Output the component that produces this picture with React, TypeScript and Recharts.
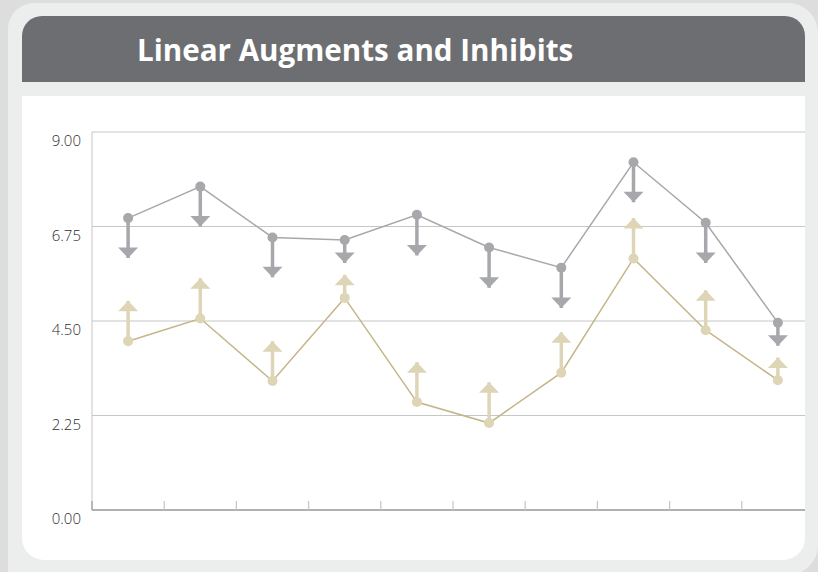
import React from 'react';
import { ComposedChart, Line, XAxis, YAxis, CartesianGrid, ErrorBar } from 'recharts';

const periods = ['1', '2', '3', '4', '5', '6', '7', '8', '9', '10'];
const inhibitFrom = [6.95, 7.7, 6.49, 6.43, 7.03, 6.25, 5.77, 8.28, 6.84, 4.46];
const inhibitTo = [6.0, 6.75, 5.54, 5.88, 6.06, 5.29, 4.81, 7.33, 5.88, 3.91];
const augmentFrom = [4.02, 4.56, 3.07, 5.05, 2.57, 2.07, 3.27, 5.99, 4.28, 3.09];
const augmentTo = [4.98, 5.52, 4.02, 5.6, 3.52, 3.04, 4.23, 6.95, 5.23, 3.63];
const yTicks = [0, 2.25, 4.5, 6.75, 9];
const xTicks = [0, 1, 2, 3, 4, 5, 6, 7, 8, 9, 10];

const GRAY = '#a7a8ab';
const GOLD_LINE = '#c4b688';
const GOLD = '#ddd5b6';

const data = periods.map((p, i) => ({
  period: p,
  pos: i + 0.5,
  inhibit: inhibitFrom[i],
  inhibitTo: inhibitTo[i],
  augment: augmentFrom[i],
  augmentTo: augmentTo[i],
}));

const XTick = (props: any) => {
  const { x, y, index } = props;
  return <line x1={x} x2={x} y1={y} y2={y - 9} stroke={index === 0 ? '#9a9a9a' : '#c6c6c6'} strokeWidth={1.2} />;
};

const YTick = (props: any) => {
  const { x, y, payload } = props;
  return (
    <text x={x} y={y + 8} textAnchor="end" dominantBaseline="central" fill="#2e2e2e"
      style={{ fontFamily: '"Open Sans", sans-serif', fontSize: 15, fontWeight: 300 }}>
      {Number(payload.value).toFixed(2)}
    </text>
  );
};

// arrow heads drawn at the target value
const DownHead = (props: any) => {
  const { cx, cy } = props;
  if (cx == null || cy == null) return null;
  return <polygon points={`${cx - 10},${cy - 10.5} ${cx + 10},${cy - 10.5} ${cx},${cy}`} fill={GRAY} />;
};

const UpHead = (props: any) => {
  const { cx, cy } = props;
  if (cx == null || cy == null) return null;
  return <polygon points={`${cx - 10},${cy + 10.5} ${cx + 10},${cy + 10.5} ${cx},${cy}`} fill={GOLD} />;
};

export default function App() {
  return (
    <div style={{ position: 'absolute', left: 0, top: 0, width: 818, height: 572, background: '#dcdddc', overflow: 'hidden' }}>
      <div style={{ position: 'absolute', left: 8, top: 3, width: 810, height: 572, background: '#eceeed', borderRadius: '26px 30px 30px 0' }} />
      <div style={{ position: 'absolute', left: 22, top: 16, width: 783, height: 66, background: '#6d6e71', borderRadius: '20px 20px 0 0' }} />
      <div style={{
        position: 'absolute', left: 137, top: 35, color: '#fff', fontFamily: '"Open Sans", sans-serif',
        fontWeight: 700, fontSize: 29.6, lineHeight: '29px', whiteSpace: 'nowrap',
      }}>
        Linear Augments and Inhibits
      </div>
      <div style={{ position: 'absolute', left: 22, top: 96, width: 783, height: 464, background: '#fff', borderRadius: '0 0 22px 22px', overflow: 'hidden' }}>
        <ComposedChart width={800} height={464} data={data} margin={{ top: 36, right: 8, bottom: 49, left: 0 }}>
          <CartesianGrid vertical={false} stroke="#c6c6c6" strokeWidth={1} />
          <XAxis dataKey="pos" type="number" domain={[0, 10]} ticks={xTicks} interval={0} height={1}
            tickSize={0} tickMargin={0} tickLine={false} tick={<XTick />} axisLine={{ stroke: '#a0a0a0', strokeWidth: 1.5 }} />
          <YAxis type="number" domain={[0, 9]} ticks={yTicks} interval={0} width={70} tickSize={0} tickMargin={11}
            tickLine={false} tick={<YTick />} axisLine={{ stroke: '#c6c6c6' }} allowDataOverflow />
          <Line dataKey="inhibitTo" stroke="none" dot={<DownHead />} activeDot={false} legendType="none" isAnimationActive={false} />
          <Line dataKey="augmentTo" stroke="none" dot={<UpHead />} activeDot={false} legendType="none" isAnimationActive={false} />
          <Line dataKey="inhibit" stroke={GRAY} strokeWidth={1.5} dot={{ r: 5, fill: GRAY, stroke: 'none' }} activeDot={false} isAnimationActive={false}>
            <ErrorBar dataKey={(d: any) => [d.inhibit - d.inhibitTo, 0]} direction="y" width={0} stroke={GRAY} strokeWidth={3.5} isAnimationActive={false} />
          </Line>
          <Line dataKey="augment" stroke={GOLD_LINE} strokeWidth={1.5} dot={{ r: 5, fill: GOLD, stroke: 'none' }} activeDot={false} isAnimationActive={false}>
            <ErrorBar dataKey={(d: any) => [0, d.augmentTo - d.augment]} direction="y" width={0} stroke={GOLD} strokeWidth={3.5} isAnimationActive={false} />
          </Line>
        </ComposedChart>
      </div>
    </div>
  );
}
